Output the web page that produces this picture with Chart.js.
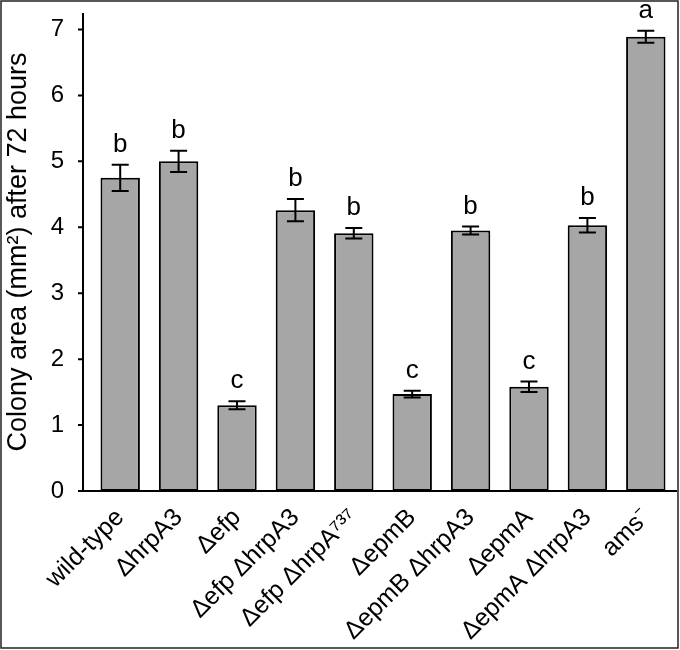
<!DOCTYPE html>
<html>
<head>
<meta charset="utf-8">
<script src="https://cdn.jsdelivr.net/npm/chart.js@4.4.0/dist/chart.umd.min.js"></script>
<style>
  html, body { margin: 0; padding: 0; background: #fff; }
  #wrap { width: 680px; height: 650px; position: relative; }
</style>
</head>
<body>
<div id="wrap"><canvas id="chart"></canvas></div>
<script>
// ── DATA ──────────────────────────────────────────────────────────────────────
const strains = ['wild-type', 'ΔhrpA3', 'Δefp', 'Δefp ΔhrpA3', 'Δefp ΔhrpA⁷³⁷',
                 'ΔepmB', 'ΔepmB ΔhrpA3', 'ΔepmA', 'ΔepmA ΔhrpA3', 'ams⁻'];
const area    = [4.75, 5.00, 1.30, 4.26, 3.91, 1.47, 3.95, 1.58, 4.03, 6.89];
const sem     = [0.20, 0.16, 0.06, 0.17, 0.08, 0.05, 0.06, 0.08, 0.11, 0.09];
const groups  = ['b', 'b', 'c', 'b', 'b', 'c', 'b', 'c', 'b', 'a'];
const yTicks  = [0, 1, 2, 3, 4, 5, 6, 7];

const FONT = '"Liberation Sans", Arial, sans-serif';

// ── EXTRAS: error bars, letters, axes, frame ─────────────────────────────────
const extras = {
  id: 'extras',
  afterDatasetsDraw(chart) {
    const { ctx, scales: { x, y } } = chart;
    ctx.save();
    ctx.strokeStyle = '#000';
    ctx.lineWidth = 2;
    ctx.fillStyle = '#000';
    ctx.font = '26px ' + FONT;
    ctx.textAlign = 'center';
    ctx.textBaseline = 'alphabetic';
    area.forEach((v, i) => {
      const cx = x.getPixelForValue(i);
      const yt = y.getPixelForValue(v + sem[i]);
      const yb = y.getPixelForValue(v - sem[i]);
      ctx.beginPath();
      ctx.moveTo(cx, yt); ctx.lineTo(cx, yb);
      ctx.moveTo(cx - 8.5, yt); ctx.lineTo(cx + 8.5, yt);
      ctx.moveTo(cx - 8.5, yb); ctx.lineTo(cx + 8.5, yb);
      ctx.stroke();
      ctx.fillText(groups[i], cx, yt - 13);
    });
    ctx.restore();
  },
  afterDraw(chart) {
    const { ctx, chartArea, scales: { y } } = chart;
    const ax = chartArea.left - 8;
    const y0 = y.getPixelForValue(0);
    ctx.save();
    ctx.strokeStyle = '#000';
    ctx.lineWidth = 2;
    ctx.beginPath();
    ctx.moveTo(ax, chartArea.top);
    ctx.lineTo(ax, y0);
    ctx.lineTo(677, y0);
    yTicks.forEach(t => {
      const py = y.getPixelForValue(t);
      ctx.moveTo(ax - 5, py);
      ctx.lineTo(ax, py);
    });
    ctx.stroke();
    // outer frame
    ctx.strokeStyle = '#222';
    ctx.lineWidth = 1.5;
    ctx.strokeRect(1, 1, 677, 647);
    ctx.restore();
  }
};

// ── CHART ─────────────────────────────────────────────────────────────────────
new Chart(document.getElementById('chart'), {
  type: 'bar',
  data: {
    labels: strains,
    datasets: [{
      data: area,
      backgroundColor: '#a6a6a6',
      borderColor: '#000',
      borderWidth: 2,
      borderSkipped: false,
      barPercentage: 0.675,
      categoryPercentage: 1
    }]
  },
  options: {
    responsive: true,
    maintainAspectRatio: false,
    animation: false,
    layout: { padding: { top: 13, right: 5, left: 0, bottom: 0 } },
    plugins: { legend: { display: false }, tooltip: { enabled: false } },
    scales: {
      x: {
        grid: { display: false },
        border: { display: false },
        afterFit: s => { s.height = 159; s.paddingLeft = 0; s.paddingRight = 0; },
        ticks: {
          color: '#000',
          font: { family: FONT, size: 25 },
          minRotation: 45,
          maxRotation: 45,
          autoSkip: false,
          padding: 4
        }
      },
      y: {
        min: 0,
        max: 7.25,
        grid: { display: false },
        border: { display: false },
        afterFit: s => { s.width = 91; s.paddingTop = 0; s.paddingBottom = 0; },
        afterBuildTicks: s => { s.ticks = yTicks.map(v => ({ value: v })); },
        ticks: {
          color: '#000',
          font: { family: FONT, size: 24 },
          padding: 19
        },
        title: {
          display: true,
          text: 'Colony area (mm²) after 72 hours',
          color: '#000',
          font: { family: FONT, size: 27 },
          padding: { top: 2, bottom: 0 }
        }
      }
    }
  },
  plugins: [extras]
});
</script>
</body>
</html>
